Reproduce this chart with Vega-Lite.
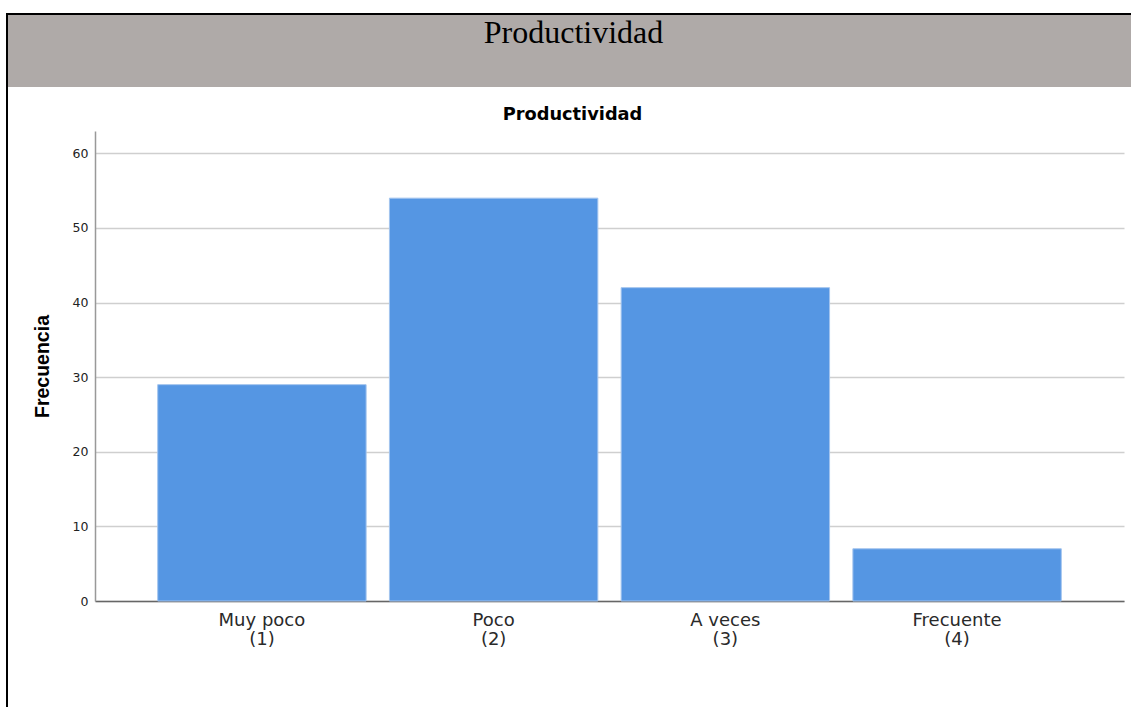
{
  "$schema": "https://vega.github.io/schema/vega-lite/v6.json",
  "padding": {"left": 6, "top": 13, "right": 0, "bottom": 0},
  "background": "white",
  "config": {"view": {"stroke": null}},
  "spacing": 0,
  "bounds": "flush",
  "datasets": {
    "freq": [
      {"cat": "Muy poco\n(1)", "freq": 29},
      {"cat": "Poco\n(2)", "freq": 54},
      {"cat": "A veces\n(3)", "freq": 42},
      {"cat": "Frecuente\n(4)", "freq": 7}
    ],
    "header": [{"label": "Productividad"}],
    "none": []
  },
  "hconcat": [
    {
      "width": 2,
      "height": 694,
      "view": {"fill": "black", "stroke": null},
      "data": {"name": "none"},
      "mark": {"type": "text"},
      "encoding": {}
    },
    {
      "spacing": 0,
      "bounds": "flush",
      "vconcat": [
        {
          "width": 1123,
          "height": 2,
          "view": {"fill": "black", "stroke": null},
          "data": {"name": "none"},
          "mark": {"type": "text"},
          "encoding": {}
        },
        {
          "width": 1123,
          "height": 72,
          "view": {"fill": "#AFAAA8", "stroke": null},
          "data": {"name": "header"},
          "mark": {"type": "text", "font": "Liberation Serif", "fontSize": 32, "color": "black", "baseline": "alphabetic", "align": "center", "dx": 4, "dy": -8},
          "encoding": {"text": {"field": "label"}}
        },
        {
          "width": 1123,
          "height": 44,
          "data": {"name": "none"},
          "mark": {"type": "text"},
          "encoding": {}
        },
        {
          "spacing": 0,
          "bounds": "flush",
          "hconcat": [
            {
              "width": 87,
              "height": 470,
              "data": {"name": "none"},
              "mark": {"type": "text"},
              "encoding": {}
            },
            {
              "width": 1029,
              "height": 470,
              "title": {
                "text": "Productividad",
                "font": "DejaVu Sans",
                "fontSize": 17.8,
                "fontWeight": "bold",
                "color": "black",
                "anchor": "middle",
                "baseline": "alphabetic",
                "offset": 11,
                "dx": -37,
                "dy": 18
              },
              "data": {"name": "freq"},
              "mark": {"type": "bar", "color": "#5596E3", "stroke": "#a3c4ee", "strokeWidth": 1},
              "encoding": {
                "x": {
                  "field": "cat",
                  "type": "nominal",
                  "sort": null,
                  "scale": {"paddingInner": 0.1006, "paddingOuter": 0.2706},
                  "axis": {
                    "title": null,
                    "labelAngle": 0,
                    "labelExpr": "split(datum.label, '\\n')",
                    "labelFont": "DejaVu Sans",
                    "labelFontSize": 18,
                    "labelColor": "#2a2a2a",
                    "labelLineHeight": 19,
                    "labelBaseline": "top",
                    "labelPadding": 10,
                    "ticks": false,
                    "tickSize": 0,
                    "domainColor": "#666666",
                    "domainWidth": 1.5,
                    "grid": false
                  }
                },
                "y": {
                  "field": "freq",
                  "type": "quantitative",
                  "scale": {"domain": [0, 63], "nice": false},
                  "axis": {
                    "values": [0, 10, 20, 30, 40, 50, 60],
                    "title": "Frecuencia",
                    "titleFont": "Liberation Sans",
                    "titleFontSize": 19.5,
                    "titleFontWeight": "bold",
                    "titleColor": "black",
                    "titlePadding": 20,
                    "labelFont": "DejaVu Sans",
                    "labelFontSize": 12.5,
                    "labelColor": "#222222",
                    "labelPadding": 7,
                    "ticks": false,
                    "tickSize": 0,
                    "domainColor": "#999999",
                    "domainWidth": 1.5,
                    "grid": true,
                    "gridColor": "#cfcfcf",
                    "gridWidth": 1.5
                  }
                }
              }
            }
          ]
        }
      ]
    }
  ]
}
